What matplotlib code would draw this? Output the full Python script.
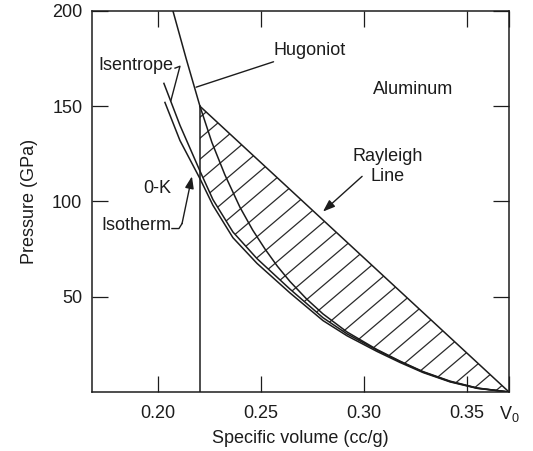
import numpy as np
import matplotlib
matplotlib.use('Agg')
import matplotlib.pyplot as plt
from matplotlib.patches import Polygon

plt.rcParams['font.family'] = ['Liberation Sans', 'DejaVu Sans']
plt.rcParams['mathtext.fontset'] = 'custom'
plt.rcParams['mathtext.rm'] = 'Liberation Sans'

# aluminum, specific volume (cc/g) vs pressure (GPa)
V0 = 0.3704
V_apex = 0.2204   # end state on the Hugoniot
P_apex = 150

hug_v = [0.2073, 0.2137, 0.2204, 0.2262, 0.2325, 0.2398, 0.2460, 0.2520, 0.2580, 0.2641,
         0.2720, 0.2801, 0.2918, 0.3063, 0.3175, 0.3287, 0.3418, 0.3550, 0.3704]
hug_p = [200, 175, 150, 131, 114, 97, 85, 75, 66, 58, 49, 41, 31.5, 22.3, 16.2, 10.7, 5.7, 2.1, 0]

isen_v = [0.2029, 0.2107, 0.2204, 0.2267, 0.2364, 0.2481, 0.2641, 0.2801, 0.2918, 0.3063,
          0.3175, 0.3287, 0.3418, 0.3550, 0.3704]
isen_p = [162, 140, 116, 101, 84, 70, 54, 39, 30.5, 22, 16, 10.5, 5.5, 2, 0]

iso_v = [0.2034, 0.2107, 0.2204, 0.2267, 0.2364, 0.2481, 0.2641, 0.2801, 0.2918, 0.3063,
         0.3175, 0.3287, 0.3418, 0.3550, 0.3704]
iso_p = [152, 132, 112, 98, 81, 67.5, 52, 37.5, 29.5, 21.3, 15.5, 10.2, 5.3, 1.9, 0]

xticks = [0.20, 0.25, 0.30, 0.35, V0]
xlabels = ['0.20', '0.25', '0.30', '0.35', r'$\mathrm{V}_{\mathrm{0}}$']
yticks = [50, 100, 150, 200]

ink = '#1c1c1c'
fs = 13

fig = plt.figure(figsize=(5.33, 4.51), dpi=100)
ax = fig.add_axes([92/533, 1-392/451, 417/533, 381/451])

# hatched region: Rayleigh line above, isentrope below, V_apex on the left
iv = np.array(isen_v)
ip = np.array(isen_p)
m = iv >= V_apex
poly_v = [V_apex, V0] + list(iv[m][::-1])
poly_p = [P_apex, 0] + list(ip[m][::-1])
region = Polygon(np.column_stack([poly_v, poly_p]), closed=True, facecolor='none',
                 edgecolor='none')
ax.add_patch(region)

# hatch lines drawn in axes space, clipped to the region
slope = 0.85 * 417 / 381
step = 21 / 381
for c in np.arange(-2.0, 1.2, step):
    ln, = ax.plot([0, 1], [c, c + slope], transform=ax.transAxes, color='#2a2a2a', lw=0.9)
    ln.set_clip_path(region)

ax.plot(hug_v, hug_p, color=ink, lw=1.1)
ax.plot(isen_v, isen_p, color=ink, lw=1.1)
ax.plot(iso_v, iso_p, color=ink, lw=1.1)
ax.plot([V_apex, V0], [P_apex, 0], color=ink, lw=1.1)   # Rayleigh line
ax.plot([V_apex, V_apex], [0, P_apex], color=ink, lw=1.1)

ax.set_xlim(0.168, V0)
ax.set_ylim(0, 200)
ax.set_xticks(xticks)
ax.set_xticklabels(xlabels)
ax.set_yticks(yticks)
ax.tick_params(direction='in', length=11.5, width=0.9, top=True, right=True,
               labelsize=fs, colors=ink)
ax.tick_params(axis='x', pad=9)
ax.tick_params(axis='y', pad=7)
for s in ax.spines.values():
    s.set_linewidth(1.1)
    s.set_color(ink)

ax.set_xlabel('Specific volume (cc/g)', fontsize=fs, color=ink, labelpad=4)
ax.set_ylabel('Pressure (GPa)', fontsize=fs, color=ink, labelpad=10)

# labels
ax.annotate('Hugoniot', xy=(0.2185, 160), xytext=(0.2559, 179.5), fontsize=fs, color=ink,
            va='center', ha='left',
            arrowprops=dict(arrowstyle='-', color=ink, lw=1, shrinkA=1, shrinkB=0))
ax.text(0.2073, 171.6, 'Isentrope', fontsize=fs, color=ink, ha='right', va='center')
ax.plot([0.2083, 0.2107, 0.2063], [170, 171, 153], color=ink, lw=1)
ax.text(0.3238, 158.9, 'Aluminum', fontsize=fs, color=ink, ha='center', va='center')
ax.text(0.3117, 118.5, 'Rayleigh\nLine', fontsize=fs, color=ink, ha='center', va='center',
        linespacing=1.2)
ax.annotate('', xy=(0.2801, 94.7), xytext=(0.2991, 113.2),
            arrowprops=dict(arrowstyle='-|>,head_length=0.6,head_width=0.22', color=ink,
                            lw=1, mutation_scale=12, shrinkA=0, shrinkB=0))
ax.text(0.1996, 106.8, '0-K', fontsize=fs, color=ink, ha='center', va='center')
ax.text(0.2063, 87.4, 'Isotherm', fontsize=fs, color=ink, ha='right', va='center')
ax.plot([0.2068, 0.2102, 0.2117], [85.8, 85.8, 88.4], color=ink, lw=1)
ax.annotate('', xy=(0.2165, 113.2), xytext=(0.2117, 88.4),
            arrowprops=dict(arrowstyle='-|>,head_length=0.6,head_width=0.22', color=ink,
                            lw=1, mutation_scale=12, shrinkA=0, shrinkB=0))

fig.savefig('out.png', dpi=100)
